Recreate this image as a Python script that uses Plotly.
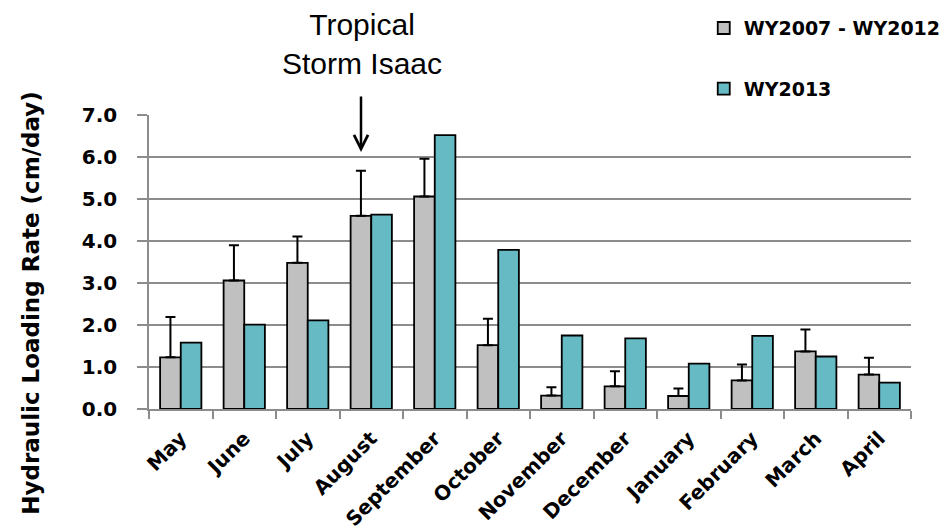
import plotly.graph_objects as go

months = ["May", "June", "July", "August", "September", "October",
          "November", "December", "January", "February", "March", "April"]
wy_2007_2012 = [1.23, 3.06, 3.48, 4.60, 5.06, 1.52, 0.32, 0.54, 0.31, 0.68, 1.37, 0.82]
wy_2007_2012_err = [0.96, 0.84, 0.63, 1.07, 0.90, 0.63, 0.20, 0.36, 0.18, 0.38, 0.52, 0.40]
wy_2013 = [1.58, 2.01, 2.11, 4.63, 6.52, 3.79, 1.75, 1.68, 1.08, 1.74, 1.25, 0.63]
y_ticks = [0, 1, 2, 3, 4, 5, 6, 7]
y_tick_labels = ["0.0", "1.0", "2.0", "3.0", "4.0", "5.0", "6.0", "7.0"]

BOLD = "DejaVu Sans"
GRID = "#8c8c8c"

fig = go.Figure()
fig.add_trace(go.Bar(
    x=months, y=wy_2007_2012, name="WY2007 - WY2012", legendgroup="a",
    marker=dict(color="#c0c0c0", line=dict(color="black", width=1.8)),
    error_y=dict(type="data", array=wy_2007_2012_err, arrayminus=[0] * 12,
                 symmetric=False, color="black", thickness=2, width=5),
))
fig.add_trace(go.Bar(
    x=months, y=wy_2013, name="WY2013", legendgroup="b",
    marker=dict(color="#65bac4", line=dict(color="black", width=1.8)),
))

# page body has an 8px margin, so the figure is shrunk by 8px and margins compensated
fig.update_layout(
    width=943, height=524,
    margin=dict(l=141, r=40, t=107, b=123, autoexpand=False),
    paper_bgcolor="white", plot_bgcolor="white",
    barmode="group", bargap=0.35, bargroupgap=0.0,
    font=dict(family=BOLD, color="black"),
    legend=dict(x=0.728, y=1.36, xanchor="left", yanchor="top",
                font=dict(family=BOLD, size=19, color="black", weight="bold"),
                traceorder="grouped", tracegroupgap=33, bgcolor="rgba(0,0,0,0)"),
    xaxis=dict(
        type="category", tickangle=-45, tickson="boundaries",
        ticks="outside", ticklen=8, tickcolor=GRID, tickwidth=1.5,
        ticklabelstandoff=8,
        showline=True, linecolor=GRID, linewidth=1.5,
        showgrid=False,
        tickfont=dict(family=BOLD, size=20, color="black", weight="bold"),
    ),
    yaxis=dict(
        range=[0, 7], tickvals=y_ticks, ticktext=y_tick_labels,
        ticks="outside", ticklen=10, tickcolor=GRID, tickwidth=1.5,
        ticklabelstandoff=16,
        showline=True, linecolor=GRID, linewidth=1.5,
        showgrid=True, gridcolor=GRID, gridwidth=1.5,
        zeroline=False,
        tickfont=dict(family=BOLD, size=20, color="black", weight="bold"),
    ),
)

# y-axis title placed like the reference (centred lower than the plot area)
fig.add_annotation(
    xref="paper", yref="paper", x=(31 - 149) / 762, y=(409.3 - 303) / 294.3,
    text="<b>Hydraulic Loading Rate (cm/day)</b>", showarrow=False, textangle=-90,
    font=dict(family=BOLD, size=23, color="black"),
    xanchor="center", yanchor="middle",
)
fig.add_annotation(
    xref="paper", yref="paper", x=(362 - 149) / 762, y=(409.3 - 44) / 294.3,
    text="Tropical<br>Storm Isaac", showarrow=False,
    font=dict(family="Liberation Sans", size=30, color="black"),
    xanchor="center", yanchor="middle",
)
fig.add_annotation(
    xref="paper", yref="paper", x=(361 - 149) / 762, y=(409.3 - 152) / 294.3,
    text="", showarrow=True, ax=0, ay=-57,
    arrowhead=5, arrowwidth=2.5, arrowsize=1.1, arrowcolor="black",
)

fig.write_html("out.html")
